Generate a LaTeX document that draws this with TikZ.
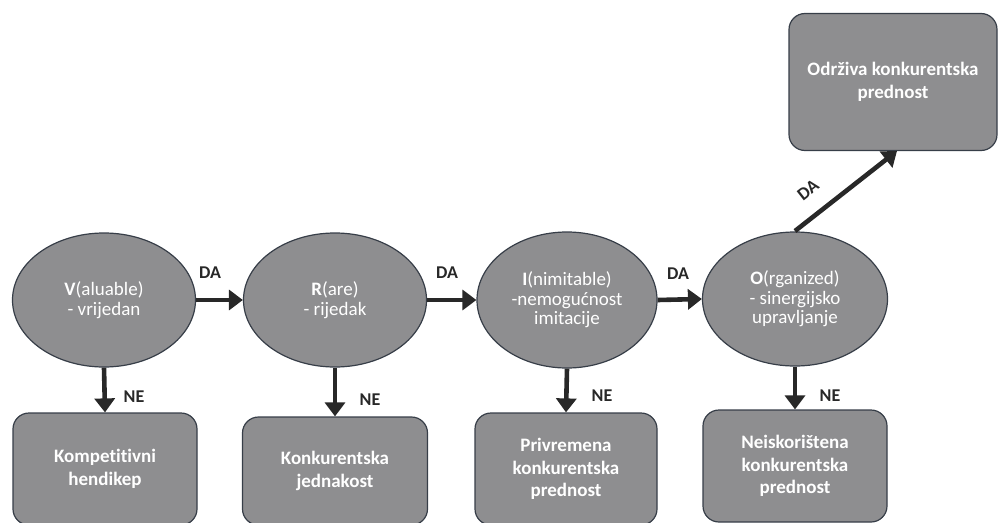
\documentclass[tikz,border=0pt]{standalone}
\usepackage{fontspec}
\setmainfont{Carlito}[Ligatures={NoCommon}]
\usetikzlibrary{shapes.geometric,arrows.meta}
\definecolor{boxfill}{RGB}{142,142,144}
\definecolor{boxline}{RGB}{55,62,72}
\definecolor{arrcol}{RGB}{40,40,40}
\tikzset{
  ell/.style={ellipse, draw=boxline, line width=1.2pt, fill=boxfill, text=white,
    minimum width=183pt, minimum height=134pt, inner sep=0pt, align=center,
    font=\fontsize{19}{19.5}\selectfont},
  rbox/.style={rectangle, rounded corners=16pt, draw=boxline, line width=1.2pt, fill=boxfill,
    text=white, align=center, inner sep=0pt, font=\fontsize{19}{22.5}\selectfont\bfseries},
  arr/.style={line width=4.6pt, -{Triangle[length=14pt,width=20pt]}, arrcol},
  lab/.style={font=\fontsize{18}{20}\selectfont\bfseries, text=arrcol, inner sep=0pt}
}
\begin{document}
\begin{tikzpicture}[x=1pt,y=-1pt]
\useasboundingbox (0,0) rectangle (1000,522);
% ellipses
\node[ell] (V) at (104,300) {\textbf{V}(aluable)\\- vrijedan};
\node[ell] (R) at (335,300) {\textbf{R}(are)\\- rijedak};
\node[ell, minimum width=180pt, minimum height=136pt] (I) at (567,300) {\textbf{I}(nimitable)\\-nemogućnost\\imitacije};
\node[ell, minimum width=185pt] (O) at (795,299) {\textbf{O}(rganized)\\- sinergijsko\\upravljanje};
% bottom boxes
\node[rbox, minimum width=184pt, minimum height=112pt] (B1) at (105,469) {Kompetitivni\\hendikep};
\node[rbox, minimum width=185pt, minimum height=108pt] (B2) at (335,471) {Konkurentska\\jednakost};
\node[rbox, minimum width=182pt, minimum height=112pt] (B3) at (566,469) {Privremena\\konkurentska\\prednost};
\node[rbox, minimum width=184pt, minimum height=112pt] (B4) at (795,466) {Neiskorištena\\konkurentska\\prednost};
% top box
\node[rbox, minimum width=208pt, minimum height=137pt] (T) at (893,82) {Održiva konkurentska\\prednost};
% DA arrows
\draw[arr] (V.east) -- (R.west);
\draw[arr] (R.east) -- (I.west);
\draw[arr] (I.east) -- (O.west);
\coordinate (Ostart) at (795,231);
\coordinate (Tend) at (897,151);
\draw[arr] (Ostart) -- (Tend);
\node[lab] (da1) at (210,273) {DA};
\node[lab] (da2) at (447,273) {DA};
\node[lab] (da3) at (678,274) {DA};
\node[lab, rotate=38] (da4) at (808,190) {DA};
% NE arrows
\draw[arr] (V.south) -- (B1.north);
\draw[arr] (R.south) -- (B2.north);
\draw[arr] (I.south) -- (B3.north);
\draw[arr] (O.south) -- (B4.north);
\node[lab] (ne1) at (134,397) {NE};
\node[lab] (ne2) at (370,400) {NE};
\node[lab] (ne3) at (602,396) {NE};
\node[lab] (ne4) at (830,396) {NE};
\end{tikzpicture}
\end{document}
